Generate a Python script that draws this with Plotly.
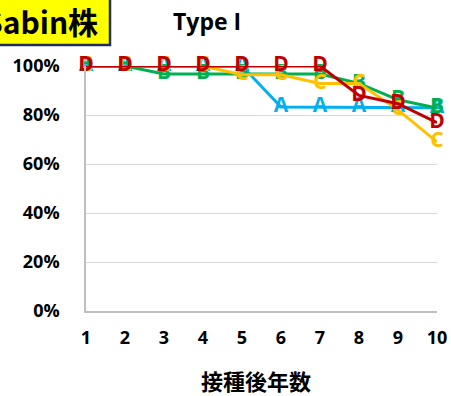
import plotly.graph_objects as go

# Years after vaccination
years = [1, 2, 3, 4, 5, 6, 7, 8, 9, 10]

# Seropositivity rate (%) per group
series_a = [100, 100, 100, 100, 100, 83.3, 83.3, 83.3, 83.3, 83.0]
series_b = [100, 100, 96.7, 96.7, 96.7, 96.7, 96.7, 92.9, 86.2, 82.8]
series_c = [100, 100, 100, 100, 96.4, 96.4, 92.9, 92.9, 82.1, 69.0]
series_d = [100, 100, 100, 100, 100, 100, 100, 88.0, 84.6, 76.9]

series = [
    ("A", series_a, "#00B0F0"),
    ("B", series_b, "#00B050"),
    ("C", series_c, "#FFC000"),
    ("D", series_d, "#C00000"),
]

y_ticks = [0, 20, 40, 60, 80, 100]
y_tick_text = ["0%", "20%", "40%", "60%", "80%", "100%"]

W, H = 451, 396
L, R, T, B = 86, 14, 66, 85
pw, ph = W - L - R, H - T - B


def px(x):
    return (x - L) / pw


def py(y):
    return (H - B - y) / ph


fig = go.Figure()
for name, vals, color in series:
    fig.add_trace(go.Scatter(
        x=years, y=vals, mode="lines+text", name=name,
        text=[name] * len(years), textposition="middle center",
        textfont=dict(family="Open Sans", size=21, color=color, weight="bold"),
        line=dict(color=color, width=3),
        cliponaxis=False, showlegend=False,
    ))

fig.update_layout(
    width=W, height=H,
    margin=dict(l=L, r=R, t=T, b=B),
    paper_bgcolor="white", plot_bgcolor="white",
    font=dict(family="Open Sans", color="black"),
    xaxis=dict(
        range=[1, 10], tickvals=years, ticktext=[str(v) for v in years],
        showgrid=False, zeroline=False, automargin=False,
        showline=True, linecolor="#BFBFBF", linewidth=1.5,
        ticks="outside", ticklen=10, tickcolor="rgba(0,0,0,0)",
        tickfont=dict(size=18, weight="bold", family="Open Sans"),
    ),
    yaxis=dict(
        range=[0, 100], tickvals=y_ticks, ticktext=y_tick_text,
        showgrid=True, gridcolor="#D9D9D9", gridwidth=1, zeroline=False,
        automargin=False,
        showline=True, linecolor="#BFBFBF", linewidth=1.5,
        ticks="outside", ticklen=21, tickcolor="rgba(0,0,0,0)",
        tickfont=dict(size=18, weight="bold", family="Open Sans"),
    ),
)

# Strain label box
fig.add_shape(
    type="rect", xref="paper", yref="paper",
    x0=px(-10), x1=px(110), y0=py(45), y1=py(-5),
    fillcolor="#FFFF00", line=dict(color="#1F2F5F", width=2.5),
    layer="above",
)
fig.add_annotation(
    text="Sabin株", xref="paper", yref="paper",
    x=px(100), y=py(21), xanchor="right", yanchor="middle",
    showarrow=False,
    font=dict(family="Noto Sans CJK JP", size=30, color="black", weight="bold"),
)
fig.add_annotation(
    text="Type I", xref="paper", yref="paper",
    x=px(207), y=py(21), xanchor="center", yanchor="middle",
    showarrow=False,
    font=dict(family="Open Sans", size=23, color="black", weight="bold"),
)
fig.add_annotation(
    text="接種後年数", xref="paper", yref="paper",
    x=px(256), y=py(380), xanchor="center", yanchor="middle",
    showarrow=False,
    font=dict(family="Noto Sans CJK JP", size=22, color="black", weight="bold"),
)

fig.write_html("out.html")
